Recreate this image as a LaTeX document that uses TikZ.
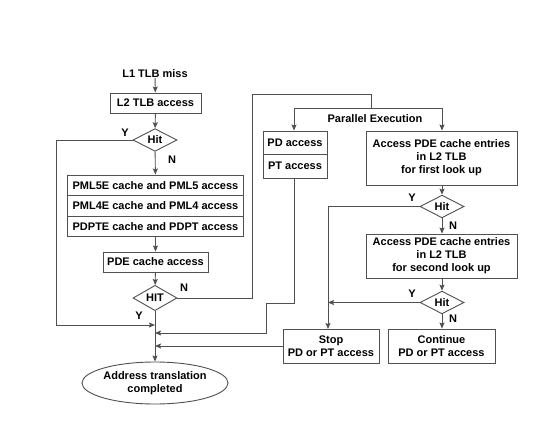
\documentclass[tikz,border=0pt]{standalone}
\usepackage{fontspec}
\setmainfont{Liberation Sans}
\usetikzlibrary{shapes.geometric,arrows.meta}
\definecolor{ln}{RGB}{80,80,80}
\tikzset{
  box/.style={draw=ln, line width=0.9pt, rectangle, inner sep=0pt, align=center, font=\fontsize{11}{13}\selectfont\bfseries},
  dec/.style={draw=ln, line width=0.9pt, diamond, inner sep=0pt, minimum width=44pt, minimum height=20pt, font=\fontsize{11}{13}\selectfont\bfseries},
  lbl/.style={font=\fontsize{11}{13}\selectfont\bfseries, inner sep=0pt},
  conn/.style={draw=ln, line width=0.9pt},
  arr/.style={conn, -{Stealth[length=6pt,width=5pt,inset=1pt]}}
}
\begin{document}
\begin{tikzpicture}[x=1pt,y=-1pt]
\useasboundingbox (0,0) rectangle (550,423);
% left column
\node[lbl] (l1) at (155,74) {L1 TLB miss};
\node[box, minimum width=91pt, minimum height=20pt] (l2) at (155.5,103) {L2 TLB access};
\node[dec] (hit1) at (155,140) {Hit};
\node[box, minimum width=176pt, minimum height=20.5pt] (pml5) at (155.5,185.25) {PML5E cache and PML5 access};
\node[box, minimum width=176pt, minimum height=20.5pt] (pml4) at (155.5,205.75) {PML4E cache and PML4 access};
\node[box, minimum width=176pt, minimum height=20.5pt] (pdpt) at (155.5,226.25) {PDPTE cache and PDPT access};
\node[box, minimum width=105pt, minimum height=20pt] (pde) at (155.5,262) {PDE cache access};
\node[dec] (hit2) at (155,298) {HIT};
\node[draw=ln, line width=0.9pt, ellipse, minimum width=144pt, minimum height=42pt, inner sep=0pt, align=center, font=\fontsize{11}{13}\selectfont\bfseries] (done) at (155,383) {Address translation\\completed};
% right part
\node[lbl] (par) at (375,119) {Parallel Execution};
\node[box, minimum width=64pt, minimum height=23.5pt] (pd) at (295,142.75) {PD access};
\node[box, minimum width=64pt, minimum height=23.5pt] (pt) at (295,166.25) {PT access};
\node[box, minimum width=151pt, minimum height=54pt] (acc1) at (441.5,158) {Access PDE cache entries\\in L2 TLB\\for first look up};
\node[dec] (hitA) at (442,206.5) {Hit};
\node[box, minimum width=151pt, minimum height=44pt] (acc2) at (441.5,256) {Access PDE cache entries\\in L2 TLB\\for second look up};
\node[dec] (hitB) at (442,302.5) {Hit};
\node[box, minimum width=96pt, minimum height=34pt] (stop) at (331,346) {Stop\\PD or PT access};
\node[box, minimum width=107pt, minimum height=34pt] (cont) at (441.5,346) {Continue\\PD or PT access};
% coordinates
\coordinate (m1) at (155,325);
\coordinate (m2) at (155,333);
\coordinate (m3) at (155,346);
\coordinate (pl) at (294,108);
\coordinate (pr) at (442,108);
\coordinate (ptop) at (371,108);
\coordinate (sin) at (328,329);
\coordinate (jB) at (328,302.5);
% labels
\node[lbl] at (125,133) {Y};
\node[lbl] at (172,160) {N};
\node[lbl] at (139,316) {Y};
\node[lbl] at (184,288) {N};
\node[lbl] at (412,198) {Y};
\node[lbl] at (453,226) {N};
\node[lbl] at (412,294) {Y};
\node[lbl] at (453,319) {N};
% connectors
\draw[arr] (l1) -- (l2);
\draw[arr] (l2) -- (hit1);
\draw[arr] (hit1) -- (pml5);
\draw[arr] (hit1.west) -- (56,140) |- (m1);
\draw[arr] (pdpt) -- (pde);
\draw[arr] (pde) -- (hit2);
\draw[arr] (hit2) -- (done);
\draw[conn] (hit2.east) -- (252,298) -- (252,94) -- (371,94) -- (ptop);
\draw[conn] (pl) -- (pr);
\draw[arr] (pl) -- (pd.north -| pl);
\draw[arr] (pr) -- (acc1.north -| pr);
\draw[arr] (pt.south -| pl) -- (294,303) -- (266,303) |- (m2);
\draw[arr] (stop.west) -- (m3);
\draw[arr] (acc1.south -| hitA) -- (hitA);
\draw[arr] (hitA.west) -| (sin);
\draw[arr] (hitA) -- (acc2.north -| hitA);
\draw[arr] (acc2.south -| hitB) -- (hitB);
\draw[arr] (hitB.west) -- (jB);
\draw[arr] (hitB) -- (cont.north -| hitB);
\end{tikzpicture}
\end{document}
